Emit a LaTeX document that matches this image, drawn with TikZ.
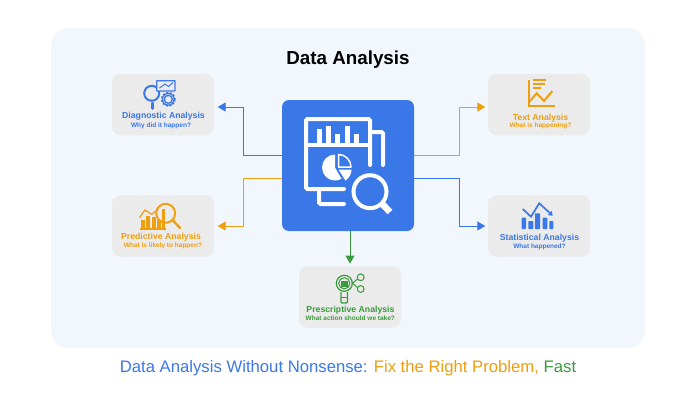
\documentclass[tikz,border=0pt]{standalone}
\usepackage{fontspec}
\setmainfont{Liberation Sans}
\usetikzlibrary{arrows.meta}
\definecolor{panelbg}{HTML}{F2F7FE}
\definecolor{cardbg}{HTML}{EBEBEB}
\definecolor{hubblue}{HTML}{3B78E7}
\definecolor{orangeline}{HTML}{EE9E0E}
\definecolor{greenline}{HTML}{3A9B3C}
\tikzset{
	cardbox/.style={fill=cardbg,rounded corners=9pt,minimum width=102pt,minimum height=61.5pt,inner sep=0pt},
	cardtitle/.style={inner sep=0pt,font=\fontsize{8.7}{10}\selectfont\bfseries},
	cardsub/.style={inner sep=0pt,font=\fontsize{6.5}{8}\selectfont\bfseries},
	linkline/.style={line width=1pt,-{Triangle[length=8pt,width=9pt]}},
	hubline/.style={white,line width=4pt,line cap=round,rounded corners=1.5pt},
	iconline/.style={line width=1.4pt,rounded corners=0.5pt}
}
\begin{document}
\begin{tikzpicture}[x=1pt,y=-1pt]
	%%%%% START %%%%%
	\def\hubx{348}
	\def\huby{165.5}
	\def\rowup{155}
	\def\rowdn{178}
	\def\xlft{243}
	\def\xrgt{459}

	\useasboundingbox (0,0) rectangle (698,400);
	\fill[white] (0,0) rectangle (698,400);
	\fill[panelbg,rounded corners=18pt] (51,28) rectangle (645,348);

	\node[inner sep=0pt,font=\fontsize{18.8}{22}\selectfont\bfseries] (title) at (348,60) {Data Analysis};

	% hub and cards
	\node[fill=hubblue,rounded corners=7pt,minimum width=132pt,minimum height=131pt,inner sep=0pt] (hub) at (\hubx,\huby) {};
	\node[cardbox] (diag) at (163,104.5) {};
	\node[cardbox] (pred) at (163,226) {};
	\node[cardbox] (presc) at (350,297) {};
	\node[cardbox] (textan) at (539,104.5) {};
	\node[cardbox] (stat) at (539,226) {};

	% connectors
	\draw[linkline,hubblue] (hub.west |- 0,\rowup) -- (\xlft,\rowup) |- ([xshift=3.5pt,yshift=-2.5pt]diag.east);
	\draw[linkline,orangeline] (hub.west |- 0,\rowdn) -- (\xlft,\rowdn) |- ([xshift=3.5pt]pred.east);
	\draw[linkline,orangeline] (hub.east |- 0,\rowup) -- (\xrgt,\rowup) |- ([xshift=-2.5pt,yshift=-2.5pt]textan.west);
	\draw[linkline,hubblue] (hub.east |- 0,\rowdn) -- (\xrgt,\rowdn) |- ([xshift=-2.5pt]stat.west);
	\draw[linkline,greenline] (hub.south -| presc.north) -- ([yshift=2.5pt]presc.north);

	% hub icon
	\draw[hubline] (344,189) -- (306,189) -- (306,119) -- (370,119) -- (370,165);
	\draw[hubline] (306,145) -- (370,145);
	\draw[hubline] (372,132) -- (383,132) -- (383,165);
	\draw[hubline] (319,189) -- (319,204) -- (344,204);
	\foreach \xb/\yb in {319/129,328/126,337.5/134,347/126,356/133.5}
		\fill[white] (\xb-2.5,\yb) rectangle (\xb+2.5,142.7);
	\fill[white] (335,154.5) arc (-90:-300:13) -- (335,167.5) -- cycle;
	\draw[white,line width=1.5pt,line join=round] (338.5,167) -- (338.5,154.5) arc (-90:0:12.5) -- cycle;
	\fill[white] (338.5,169.5) -- (351.5,169.5) arc (0:58:13) -- cycle;
	\draw[white,line width=4pt] (370,191.7) circle (16.5);
	\draw[white,line width=6.5pt] (382,203.7) -- (390,212);

	% diagnostic icon
	\draw[hubblue,line width=2pt] (151.7,93.3) circle (7.5);
	\draw[hubblue,line width=2.8pt,line cap=round] (152.3,103) -- (152.3,108.5);
	\draw[hubblue,iconline,fill=cardbg] (156.7,80.7) rectangle (175,91);
	\draw[hubblue,line width=1pt] (159.5,88) -- (165,84) -- (168.5,86.5) -- (173,82.5);
	\draw[hubblue,line width=1.3pt] (168.3,99.3) circle (4);
	\draw[hubblue,line width=1.2pt] (168.3,99.3) circle (5.8);
	\draw[hubblue,line width=1.6pt,dash pattern=on 2pt off 1.6pt] (168.3,99.3) circle (6.6);
	\node[cardtitle,text=hubblue] (diagname) at (163.5,116.5) {Diagnostic Analysis};
	\node[cardsub,text=hubblue] (diagask) at (161,125.5) {Why did it happen?};

	% predictive icon
	\foreach \xb/\yb in {140.7/220,146/215.7,151.7/216.7,157.3/220,161.5/209}
		\fill[orangeline] (\xb,\yb) rectangle (\xb+3.8,228);
	\draw[orangeline,line width=1.3pt] (139.5,229) -- (165.5,229);
	\draw[orangeline,line width=1.2pt] (139.5,217.7) -- (145,210) -- (151.7,214.3) -- (157,210);
	\draw[orangeline,line width=1.9pt] (165.7,213.3) circle (9.5);
	\draw[orangeline,line width=2.4pt,line cap=round] (173,220.5) -- (180,228);
	\node[cardtitle,text=orangeline] (predname) at (161,237) {Predictive Analysis};
	\node[cardsub,text=orangeline] (predask) at (163,245.5) {What is likely to happen?};

	% prescriptive icon
	\draw[greenline,line width=1.2pt] (344.3,283.3) circle (8);
	\draw[greenline,line width=1pt] (344.3,283.3) circle (5.6);
	\fill[greenline] (340.5,281) rectangle (348,286.5);
	\draw[greenline,line width=1.1pt,rounded corners=1pt] (341,292) -- (341,303) -- (347.5,303) -- (347.5,292);
	\draw[greenline,line width=1pt] (341,297) -- (347.5,297);
	\draw[greenline,line width=1pt] (360.7,277.3) circle (3.4);
	\draw[greenline,line width=1pt] (360.7,289) circle (3.4);
	\draw[greenline,line width=1pt] (357.6,279) -- (352.4,283.3) -- (357.6,287.5);
	\node[cardtitle,text=greenline] (prescname) at (350.5,310.5) {Prescriptive Analysis};
	\node[cardsub,text=greenline] (prescask) at (350.3,318) {What action should we take?};

	% text icon
	\draw[orangeline,line width=2pt] (529.3,80) -- (529.3,105.7) -- (555,105.7);
	\draw[orangeline,line width=2pt] (533.3,80) -- (546,80);
	\draw[orangeline,line width=2pt] (533.3,84.3) -- (545,84.3);
	\draw[orangeline,line width=2pt] (533.3,88.3) -- (540.7,88.3);
	\draw[orangeline,line width=2pt] (529.3,101.7) -- (536.7,93.3) -- (544,101) -- (552.3,91);
	\node[cardtitle,text=orangeline] (textname) at (540.5,117.8) {Text Analysis};
	\node[cardsub,text=orangeline] (textask) at (540.5,125.8) {What is happening?};

	% statistical icon
	\foreach \xa/\xc/\yb in {521.7/526/217.7,528.3/533.3/221,535/540/213.3,542.7/547.3/217.7,549.3/553.3/221}
		\fill[hubblue,rounded corners=0.6pt] (\xa,\yb) rectangle (\xc,229);
	\draw[hubblue,line width=1.7pt,-{Triangle[length=4pt,width=5.5pt]}] (522.7,209) -- (531,216.7) -- (539.3,203.3) -- (552.7,215.7);
	\node[cardtitle,text=hubblue] (statname) at (539.5,237.8) {Statistical Analysis};
	\node[cardsub,text=hubblue] (statask) at (539.5,246.5) {What happened?};

	% caption
	\node[inner sep=0pt,font=\fontsize{16.7}{18}\selectfont] (caption) at (348,368)
		{\textcolor{hubblue}{Data Analysis Without Nonsense:} \textcolor{orangeline}{Fix the Right Problem,} \textcolor{greenline}{Fast}};
	%%%%% START %%%%%
\end{tikzpicture}
\end{document}
